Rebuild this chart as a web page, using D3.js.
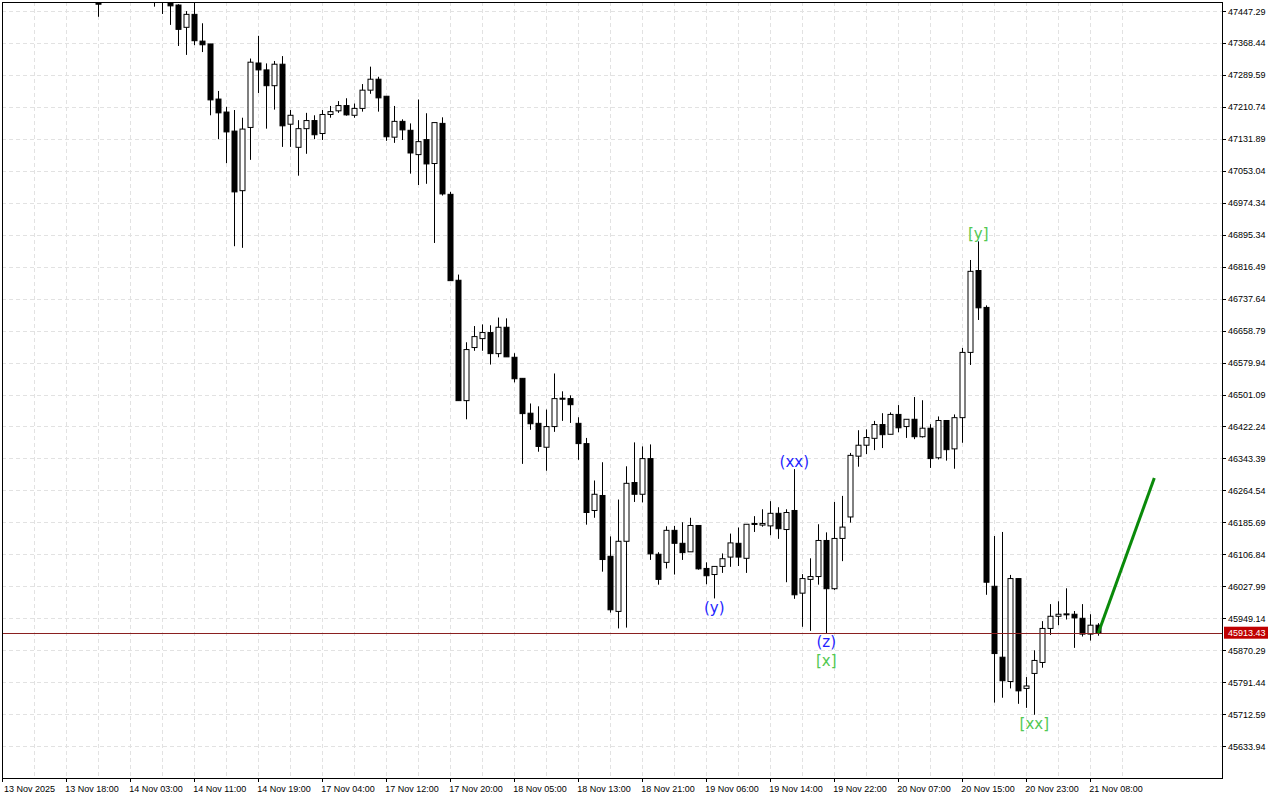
<!DOCTYPE html>
<html>
<head>
<meta charset="utf-8">
<script src="https://cdn.jsdelivr.net/npm/d3@7"></script>
<style>
  body { margin: 0; background: #fff; }
  text { font-family: "Liberation Sans", Arial, sans-serif; }
</style>
</head>
<body>
<div id="chart"></div>
<script>
// Hourly bars, index 12 is the first one kept (earlier bars are above the view)
const firstBar = 12;
const open = [47467,47520,47515,47530,47510,47525,47505,47500,47490,47467,47462,47407,47439,47373,47366,47230,47198,47151,47004,47160,
  47319,47302,47263,47316,47168,47111,47157,47177,47145,47192,47201,47214,47190,47207,47252,47279,47237,47136,47175,47153,
  47093,47130,47071,47170,46995,46783,46486,46617,46639,46654,46602,46667,46593,46541,46455,46430,46371,46422,46492,46491,
  46430,46380,46215,46252,46102,45966,46139,46284,46255,46343,46107,46087,46166,46134,46113,46178,46072,46057,46077,46100,
  46134,46097,46183,46179,46177,46208,46168,46215,46011,46045,46052,46141,46022,46146,46199,46349,46376,46393,46427,46403,
  46452,46422,46440,46397,46418,46345,46437,46367,46444,46605,46807,46716,46028,45853,45793,46047,45776,45813,45840,45924,
  45954,45959,45959,45949,45910,45932];
const high = [47486,47560,47545,47570,47540,47555,47530,47530,47520,47481,47464,47447,47467,47417,47366,47250,47211,47203,47184,47330,
  47386,47318,47324,47336,47203,47178,47196,47190,47203,47213,47225,47232,47219,47267,47310,47285,47237,47213,47180,47170,
  47229,47195,47172,47185,47001,46797,46630,46670,46674,46672,46691,46689,46603,46541,46479,46472,46464,46553,46509,46499,
  46445,46394,46289,46334,46151,46242,46324,46383,46373,46378,46112,46176,46177,46186,46197,46178,46087,46077,46109,46158,
  46173,46181,46201,46218,46238,46223,46218,46317,46058,46097,46181,46161,46236,46251,46357,46413,46415,46436,46455,46457,
  46475,46440,46495,46487,46428,46447,46437,46452,46616,46833,46879,46721,46152,46162,46056,46047,45804,45870,45942,45984,
  45991,46023,45967,45984,45959,45937];
const low = [47433,47490,47482,47495,47480,47492,47478,47458,47440,47413,47361,47339,47363,47346,47190,47131,47072,46867,46863,47080,
  47245,47157,47204,47112,47112,47041,47095,47131,47129,47184,47196,47189,47184,47199,47243,47199,47127,47122,47129,47046,
  47018,47021,46875,46992,46782,46486,46440,46609,46609,46575,46593,46594,46531,46330,46414,46360,46313,46409,46436,46431,
  46340,46180,46197,46064,45963,45924,45926,46236,46235,46093,46032,46072,46057,46093,46113,46069,46033,45998,46061,46076,
  46078,46061,46162,46175,46154,46145,46038,45997,45928,45918,46032,45912,46019,46090,46185,46323,46354,46364,46369,46403,
  46408,46394,46391,46395,46320,46341,46338,46318,46382,46574,46685,46007,45741,45753,45776,45738,45728,45711,45827,45908,
  45932,45946,45876,45904,45894,45906];
const close = [47464,47500,47495,47510,47498,47505,47490,47490,47480,47460,47402,47439,47374,47364,47228,47196,47149,47001,47156,47321,
  47302,47263,47316,47164,47190,47157,47177,47142,47192,47199,47214,47191,47207,47252,47279,47233,47137,47175,47154,47097,
  47125,47070,47172,46996,46782,46486,46612,46644,46654,46602,46667,46594,46540,46454,46429,46373,46422,46491,46491,46476,
  46380,46210,46255,46094,45970,46139,46282,46255,46343,46108,46045,46166,46134,46111,46178,46071,46054,46077,46096,46135,
  46100,46181,46181,46183,46208,46170,46210,46007,46047,46052,46141,46022,46146,46174,46351,46376,46395,46427,46402,46452,
  46419,46440,46397,46418,46343,46437,46365,46444,46605,46805,46715,46038,45862,45795,46047,45770,45782,45845,45924,45954,
  45959,45960,45950,45910,45932,45913];

const currentPrice = 45913.43;
const forecast = [{ bar: 137, price: 45913 }, { bar: 144, price: 46295 }];

const priceTicks = ["47447.29","47368.44","47289.59","47210.74","47131.89","47053.04","46974.34","46895.34","46816.49",
  "46737.64","46658.79","46579.94","46501.09","46422.24","46343.39","46264.54","46185.69","46106.84","46027.99",
  "45949.14","45870.29","45791.44","45712.59","45633.94"];
const timeLabels = ["13 Nov 2025","13 Nov 18:00","14 Nov 03:00","14 Nov 11:00","14 Nov 19:00","17 Nov 04:00",
  "17 Nov 12:00","17 Nov 20:00","18 Nov 05:00","18 Nov 13:00","18 Nov 21:00","19 Nov 06:00","19 Nov 14:00",
  "19 Nov 22:00","20 Nov 07:00","20 Nov 15:00","20 Nov 23:00","21 Nov 08:00"];

// Wave marks: bar index, text, above/below, colour
const waveLabels = [
  { bar: 89, text: "(y)", side: "low", off: 15, color: "#1f1fff" },
  { bar: 99, text: "(xx)", side: "high", off: -2, color: "#1f1fff" },
  { bar: 103, text: "(z)", side: "low", off: 14, color: "#1f1fff" },
  { bar: 103, text: "[x]", side: "low", off: 33, color: "#52c852" },
  { bar: 122, text: "[y]", side: "high", off: -2, color: "#52c852" },
  { bar: 129, text: "[xx]", side: "low", off: 14, color: "#52c852" }
];

const W = 1280, H = 800;
const plot = { left: 2, top: 2, right: 1222, bottom: 778 };

const svg = d3.select("#chart").append("svg")
  .attr("width", W).attr("height", H);

const x = d3.scaleLinear().domain([0, 137]).range([2.3, 1098.3]);
const y = d3.scaleLinear().domain([45633.94, 47447.29]).range([746, 11]);

svg.append("clipPath").attr("id", "clip")
  .append("rect")
  .attr("x", plot.left).attr("y", plot.top)
  .attr("width", plot.right - plot.left).attr("height", plot.bottom - plot.top);

// grid
const grid = svg.append("g").attr("clip-path", "url(#clip)")
  .attr("stroke", "#e2e2e2").attr("stroke-dasharray", "4,3");
grid.selectAll(".hg").data(priceTicks).join("line")
  .attr("x1", plot.left).attr("x2", plot.right)
  .attr("y1", d => Math.round(y(+d)) + 0.5).attr("y2", d => Math.round(y(+d)) + 0.5);
grid.selectAll(".vg").data(d3.range(0, 141, 4)).join("line")
  .attr("x1", d => Math.round(x(d)) + 0.5).attr("x2", d => Math.round(x(d)) + 0.5)
  .attr("y1", plot.top).attr("y2", plot.bottom);

// candles
const bars = open.map((o, i) => ({ i: i + firstBar, o, h: high[i], l: low[i], c: close[i] }));
const g = svg.append("g").attr("clip-path", "url(#clip)");
const cx = d => Math.round(x(d.i)) + 0.5;
g.selectAll(".wick").data(bars).join("line")
  .attr("x1", cx).attr("x2", cx)
  .attr("y1", d => y(d.h)).attr("y2", d => y(d.l))
  .attr("stroke", "#000");
g.selectAll(".body").data(bars).join("rect")
  .attr("x", d => cx(d) - 2.5)
  .attr("y", d => y(Math.max(d.o, d.c)))
  .attr("width", 5)
  .attr("height", d => Math.max(1, Math.abs(y(d.o) - y(d.c))))
  .attr("fill", d => d.c >= d.o ? "#fff" : "#000")
  .attr("stroke", "#000");

// current price line
g.append("line")
  .attr("x1", plot.left).attr("x2", plot.right)
  .attr("y1", Math.round(y(currentPrice)) + 0.5).attr("y2", Math.round(y(currentPrice)) + 0.5)
  .attr("stroke", "#8a2020").attr("stroke-width", 1);

// forecast line
g.append("path")
  .datum(forecast)
  .attr("d", d3.line().x(d => x(d.bar)).y(d => y(d.price)))
  .attr("stroke", "#0a8a0a").attr("stroke-width", 3).attr("fill", "none");

// wave labels
svg.selectAll(".wave").data(waveLabels).join("text")
  .attr("x", d => x(d.bar))
  .attr("y", d => y(d.side === "high" ? high[d.bar - firstBar] : low[d.bar - firstBar]) + d.off)
  .attr("text-anchor", "middle")
  .attr("fill", d => d.color)
  .style("font-family", "DejaVu Sans, sans-serif")
  .style("font-size", "15px")
  .text(d => d.text);

// frame
svg.append("rect")
  .attr("x", plot.left + 0.5).attr("y", plot.top + 0.5)
  .attr("width", plot.right - plot.left).attr("height", plot.bottom - plot.top)
  .attr("fill", "none").attr("stroke", "#000");

// price axis
const pa = svg.append("g");
pa.selectAll("line").data(priceTicks).join("line")
  .attr("x1", plot.right).attr("x2", plot.right + 4)
  .attr("y1", d => Math.round(y(+d)) + 0.5).attr("y2", d => Math.round(y(+d)) + 0.5)
  .attr("stroke", "#000");
pa.selectAll("text").data(priceTicks).join("text")
  .attr("x", 1228).attr("y", d => y(+d) + 3.5)
  .style("font-size", "9px").attr("fill", "#000")
  .text(d => d);

// current price tag
const cy = y(currentPrice);
svg.append("rect").attr("x", 1224).attr("y", cy - 6).attr("width", 44).attr("height", 12).attr("fill", "#c00000");
svg.append("text").attr("x", 1228).attr("y", cy + 3.5)
  .style("font-size", "9px").attr("fill", "#fff").text(currentPrice.toFixed(2));

// time axis
const ta = svg.append("g");
ta.selectAll("line").data(timeLabels).join("line")
  .attr("x1", (d, i) => Math.round(x(i * 8)) + 0.5).attr("x2", (d, i) => Math.round(x(i * 8)) + 0.5)
  .attr("y1", plot.bottom).attr("y2", plot.bottom + 4)
  .attr("stroke", "#000");
ta.selectAll("text").data(timeLabels).join("text")
  .attr("x", (d, i) => Math.max(4, x(i * 8) - 1)).attr("y", 792)
  .style("font-size", "9px").attr("fill", "#000")
  .text(d => d);
</script>
</body>
</html>
